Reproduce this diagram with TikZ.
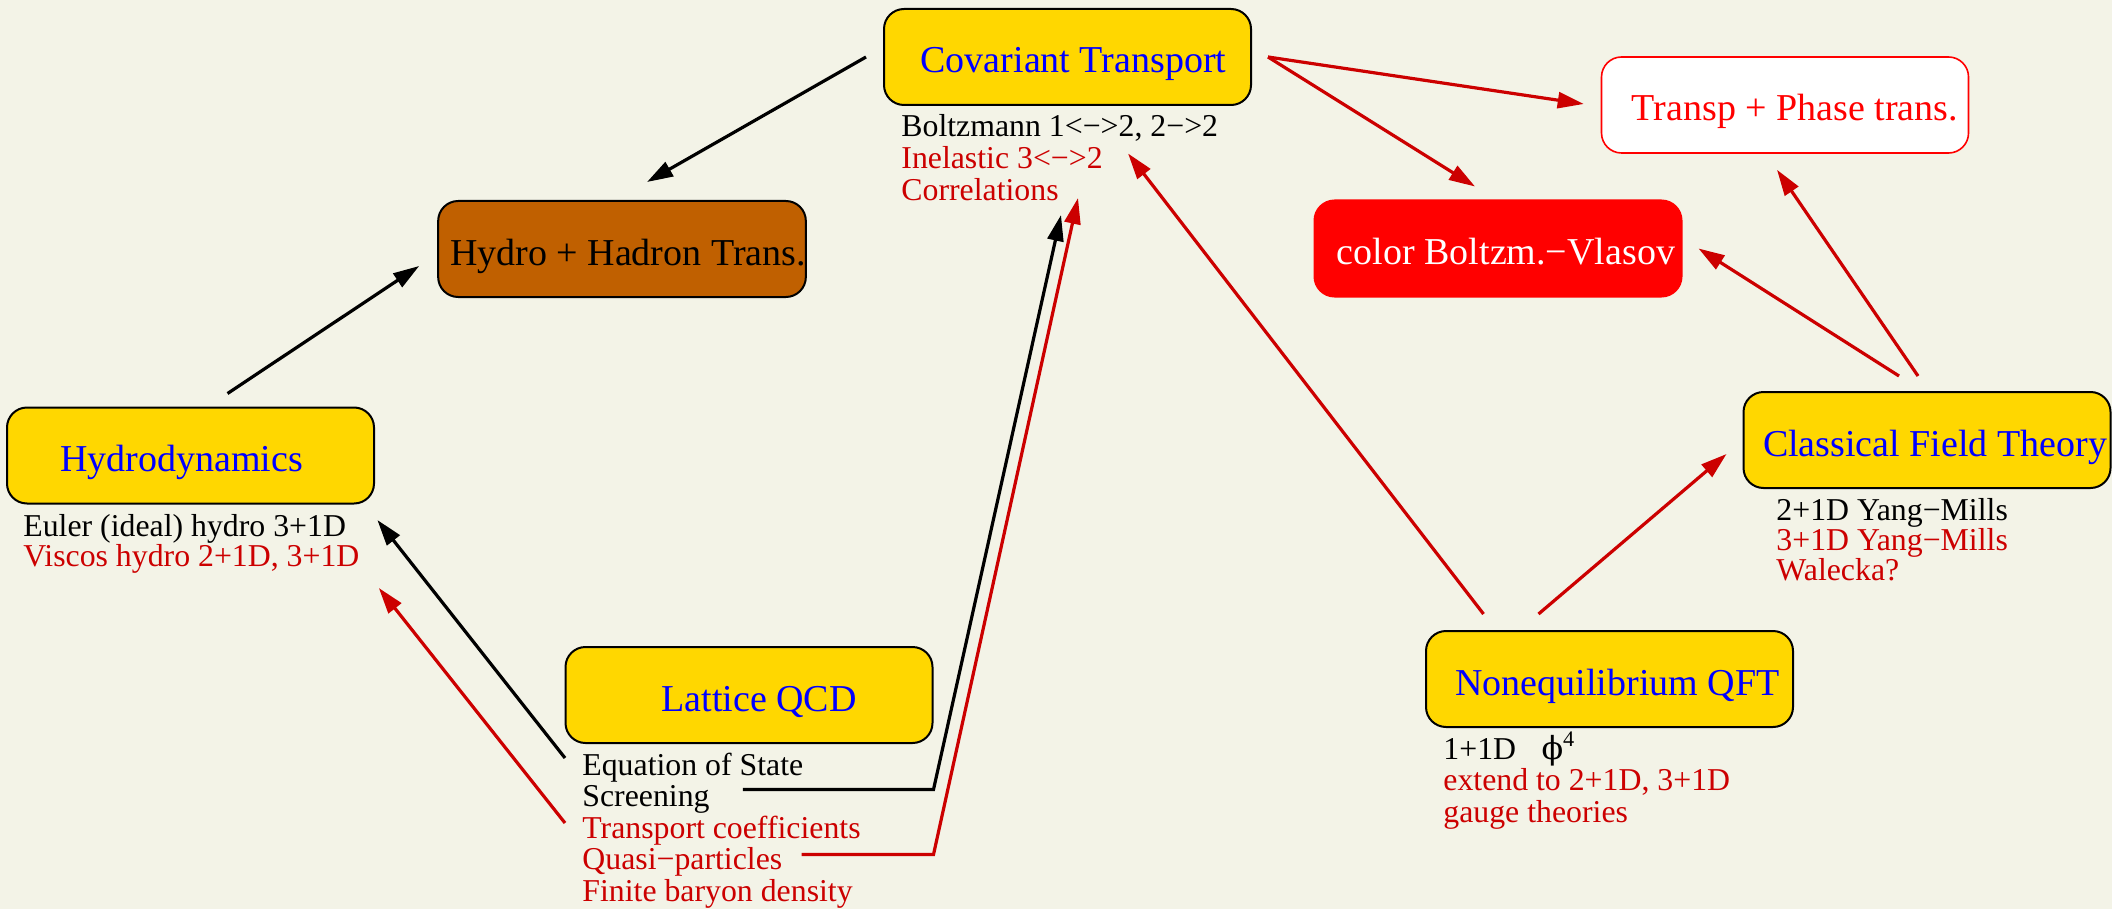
\documentclass[tikz,border=0pt]{standalone}
\usepackage{fontspec}
\setmainfont{Liberation Serif}
\newfontfamily\phifont{DejaVu Serif}
\usetikzlibrary{arrows.meta, calc}
\definecolor{cbg}{HTML}{F3F3E7}
\definecolor{cgold}{HTML}{FFD700}
\definecolor{cbrown}{HTML}{C06000}
\definecolor{cred}{HTML}{CC0000}
\definecolor{cbright}{HTML}{FF0000}
\definecolor{cblue}{HTML}{0000FF}
\newcommand\boxfont{\fontsize{19}{23}\selectfont}
\newcommand\listfont{\fontsize{15.9}{19}\selectfont}
\tikzset{
  box/.style={draw=black, fill=#1, rounded corners=10pt, line width=1pt, minimum width=183.5pt, minimum height=48pt, inner sep=0pt, text height=16pt, text depth=0pt, font=\boxfont, text=cblue},
  box/.default=cgold,
  item/.style={anchor=base west, inner sep=0pt, font=\listfont},
  arr/.style={-{Triangle[length=13pt, width=8pt]}, line width=1.6pt},
}

\begin{document}
\begin{tikzpicture}[x=0.5pt,y=-0.5pt]
  \fill[cbg] (0,0) rectangle (2112,909);
  \useasboundingbox (0,0) rectangle (2112,909);
  % boxes
  \node[box] (cov) at (1067.5,57) {\hspace{6pt}Covariant Transport};
  \node[box=white, draw=cbright, text=cbright, line width=0.8pt] (tps) at (1785,105) {\hspace{10pt}Transp + Phase trans.};
  \node[box=cbright, draw=cbright, text=white] (cbv) at (1498,248.5) {\hspace{8pt}color Boltzm.−Vlasov};
  \node[box=cbrown, text=black] (hh) at (622,249) {\hspace{6pt}Hydro + Hadron Trans.};
  \node[box] (hyd) at (190.5,455.5) {Hydrodynamics\kern9pt};
  \node[box] (lqcd) at (749,695) {\hspace{10pt}Lattice QCD};
  \node[box] (neq) at (1609.5,679) {\hspace{8pt}Nonequilibrium QFT};
  \node[box] (cft) at (1927,440) {\hspace{8pt}Classical Field Theory};
  % lists under the boxes
  \foreach \t/\c [count=\i] in {{Boltzmann 1<−>2, 2−>2}/black, {Inelastic 3<−>2}/cred, Correlations/cred}
    \node[item, text=\c] (cv\i) at (901,{137+31.5*(\i-1)}) {\t};
  \foreach \t/\c [count=\i] in {{Euler (ideal) hydro 3+1D}/black, {Viscos hydro 2+1D, 3+1D}/cred}
    \node[item, text=\c] (hy\i) at (23,{536+30*(\i-1)}) {\t};
  \foreach \t/\c [count=\i] in {Equation of State/black, Screening/black, Transport coefficients/cred, Quasi−particles/cred, Finite baryon density/cred}
    \node[item, text=\c] (lq\i) at (582,{775+31.5*(\i-1)}) {\t};
  \foreach \t/\c [count=\i] in {{1+1D\hspace{0.8em}{\phifont ϕ}\textsuperscript{4}}/black, {extend to 2+1D, 3+1D}/cred, gauge theories/cred}
    \node[item, text=\c] (nq\i) at (1443,{759+31.5*(\i-1)}) {\t};
  \foreach \t/\c [count=\i] in {2+1D Yang−Mills/black, 3+1D Yang−Mills/cred, Walecka?/cred}
    \node[item, text=\c] (cf\i) at (1776,{520+30*(\i-1)}) {\t};
  % black arrows
  \draw[arr] ($(cov.west)+(-17,0)$) -- ($(hh.north)+(25,-18)$);
  \draw[arr] ($(hyd.north)+(37,-13)$) -- ($(hh.west)+(-18,17)$);
  \draw[arr] ($(lq1.base west)+(-17,-17)$) -- ($(hy1.base east)+(31,-16)$);
  \coordinate (scrout) at ($(lq2.base east)+(33,-17)$);
  \draw[arr] (scrout) -- (scrout -| lqcd.east) -- ($(cv3.base east)+(2,15)$);
  % red arrows
  \draw[arr, cred] ($(lq3.base west)+(-17,-15)$) -- ($(hy2.base east)+(19,22)$);
  \coordinate (qpout) at ($(lq4.base east)+(19,-15)$);
  \draw[arr, cred] (qpout) -- (qpout -| lqcd.east) -- ($(cv3.base east)+(19,-2)$);
  \draw[arr, cred] ($(neq.north)+(-126,-16)$) -- ($(cv2.base east)+(25,-15)$);
  \draw[arr, cred] ($(neq.north)+(-71,-16)$) -- ($(cft.west)+(-16,14)$);
  \draw[arr, cred] ($(cft.north)+(-28,-15)$) -- ($(cbv.east)+(16,0)$);
  \draw[arr, cred] ($(cft.north)+(-9,-15)$) -- ($(tps.south)+(-8,16)$);
  \draw[arr, cred] ($(cov.east)+(16,0)$) -- ($(tps.west)+(-17,-1)$);
  \draw[arr, cred] ($(cov.east)+(16,0)$) -- ($(cbv.north)+(-23,-13)$);
\end{tikzpicture}
\end{document}
